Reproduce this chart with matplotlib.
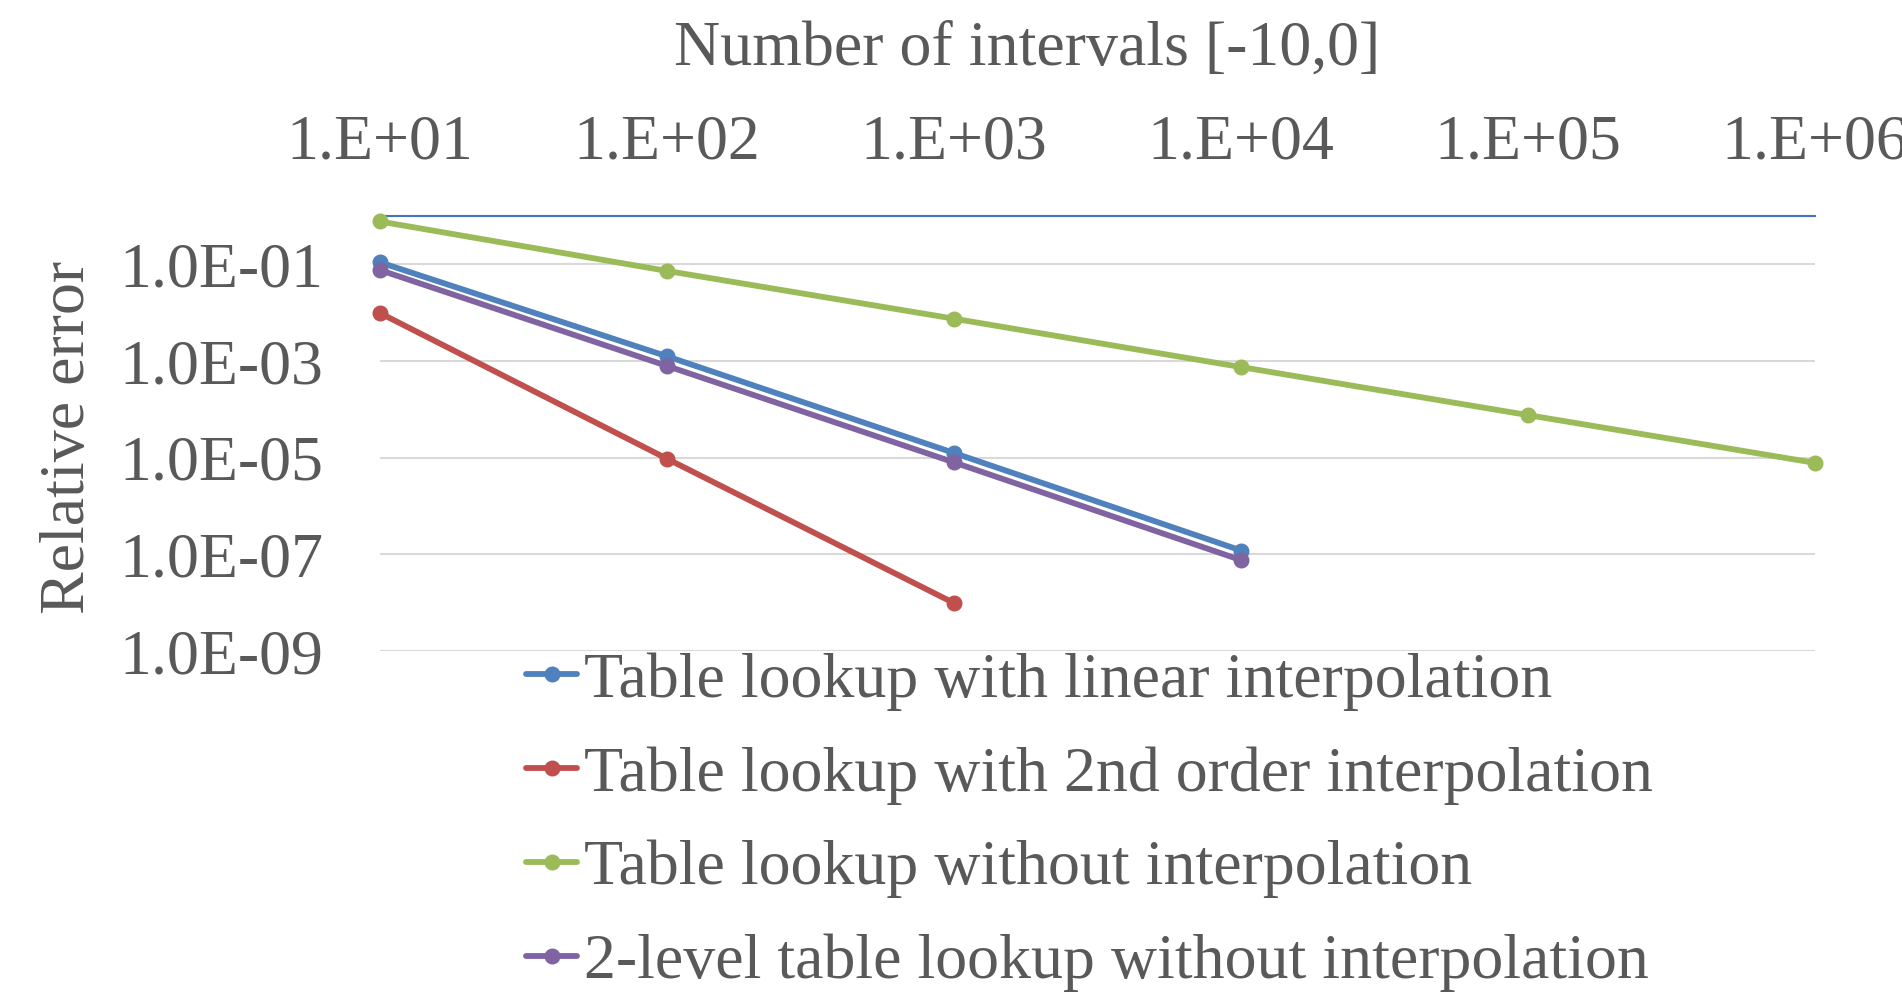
import matplotlib.pyplot as plt
from matplotlib.ticker import FixedLocator, NullLocator

plt.rcParams['font.family'] = ['Liberation Serif', 'DejaVu Serif']

intervals = [1e1, 1e2, 1e3, 1e4, 1e5, 1e6]
err_linear = [0.11, 1.25e-3, 1.25e-5, 1.2e-7]
err_2nd = [9.8e-3, 9.5e-6, 9.8e-9]
err_none = [0.77, 0.073, 0.0075, 7.5e-4, 7.6e-5, 7.8e-6]
err_2level = [0.076, 7.9e-4, 8.0e-6, 7.6e-8]

labels = ['Table lookup with linear interpolation',
          'Table lookup with 2nd order interpolation',
          'Table lookup without interpolation',
          '2-level table lookup without interpolation']
colors = ['#4F81BD', '#C0504D', '#9BBB59', '#8064A2']
x_ticklabels = ['1.E+01', '1.E+02', '1.E+03', '1.E+04', '1.E+05', '1.E+06']
y_ticks = [1e-9, 1e-7, 1e-5, 1e-3, 1e-1]
y_ticklabels = ['1.0E-09', '1.0E-07', '1.0E-05', '1.0E-03', '1.0E-01']

txt = '#595959'
fs = 46

fig = plt.figure(figsize=(19.02, 10.07), dpi=100)
ax = fig.add_axes([380 / 1902, 1 - 651 / 1007, 1435 / 1902, 435 / 1007])

series = [err_linear, err_2nd, err_none, err_2level]
for vals, c, lab in zip(series, colors, labels):
    ax.plot(intervals[:len(vals)], vals, color=c, lw=4.2, marker='o',
            ms=10.5, label=lab, solid_capstyle='round', clip_on=False, zorder=3)

ax.set_xscale('log')
ax.set_yscale('log')
ax.set_xlim(1e1, 1e6)
ax.set_ylim(1e-9, 1e0)

ax.xaxis.set_major_locator(FixedLocator(intervals))
ax.xaxis.set_minor_locator(NullLocator())
ax.set_xticklabels(x_ticklabels)
ax.xaxis.tick_top()
ax.yaxis.set_major_locator(FixedLocator(y_ticks))
ax.yaxis.set_minor_locator(NullLocator())
ax.set_yticklabels(y_ticklabels)
ax.tick_params(axis='both', length=0, labelsize=fs, colors=txt)
ax.tick_params(axis='x', pad=31)
ax.tick_params(axis='y', pad=41)

ax.grid(axis='y', color='#D9D9D9', lw=1.5, zorder=0)
for s in ['left', 'right', 'bottom']:
    ax.spines[s].set_visible(False)
ax.spines['top'].set_color('#4472C4')
ax.spines['top'].set_linewidth(1.5)

fig.text(1027 / 1902, 1 - 50 / 1007, 'Number of intervals [-10,0]',
         ha='center', va='center', fontsize=fs, color=txt)
fig.text(69 / 1902, 1 - 437 / 1007, 'Relative error', rotation=90,
         ha='center', va='center', fontsize=fs, color=txt)

leg = ax.legend(loc='upper left', bbox_to_anchor=(526 / 1902, 1 - 652 / 1007),
                bbox_transform=fig.transFigure, frameon=False, fontsize=fs,
                handlelength=0.8, handletextpad=0.1, labelspacing=0.55,
                borderpad=0, borderaxespad=0)
for t in leg.get_texts():
    t.set_color(txt)

fig.savefig('out.png', dpi=100)
